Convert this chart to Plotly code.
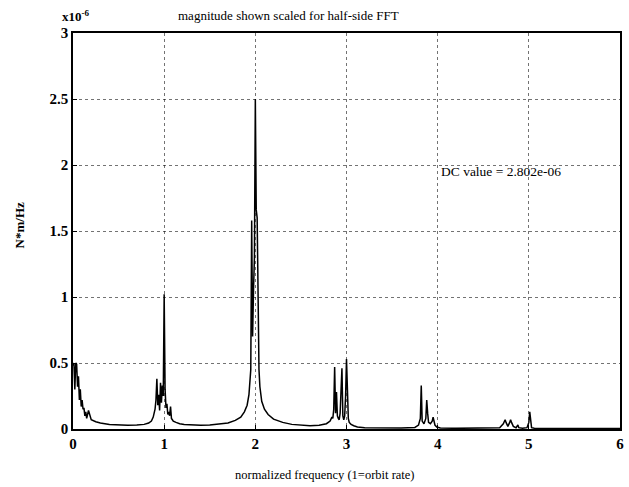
import plotly.graph_objects as go

# normalized frequency (1 = orbit rate)
freq = [
    0.000, 0.010, 0.020, 0.030, 0.040, 0.050, 0.060, 0.070, 0.080, 0.090,
    0.100, 0.110, 0.120, 0.130, 0.140, 0.150, 0.170, 0.200, 0.250, 0.300,
    0.400, 0.500, 0.600, 0.700, 0.780, 0.830, 0.860, 0.880, 0.900, 0.910,
    0.920, 0.930, 0.940, 0.950, 0.960, 0.970, 0.980, 0.990, 1.000, 1.010,
    1.020, 1.030, 1.040, 1.050, 1.060, 1.070, 1.080, 1.090, 1.100, 1.130,
    1.170, 1.220, 1.300, 1.400, 1.500, 1.600, 1.700, 1.780, 1.840, 1.880,
    1.910, 1.930, 1.950, 1.960, 1.970, 1.980, 1.990, 2.000, 2.010, 2.020,
    2.030, 2.040, 2.050, 2.070, 2.100, 2.140, 2.200, 2.300, 2.400, 2.500,
    2.600, 2.700, 2.780, 2.820, 2.840, 2.850, 2.860, 2.870, 2.880, 2.890,
    2.900, 2.910, 2.920, 2.930, 2.940, 2.950, 2.960, 2.970, 2.980, 2.990,
    3.000, 3.010, 3.020, 3.030, 3.050, 3.080, 3.120, 3.200, 3.400, 3.600,
    3.750, 3.790, 3.810, 3.820, 3.830, 3.850, 3.870, 3.880, 3.890, 3.900,
    3.920, 3.940, 3.950, 3.960, 3.970, 3.990, 4.030, 4.200, 4.500, 4.680,
    4.720, 4.740, 4.750, 4.770, 4.790, 4.800, 4.810, 4.830, 4.860, 4.880,
    4.890, 4.900, 4.930, 4.980, 5.000, 5.010, 5.020, 5.030, 5.060, 5.300,
    5.700, 6.000,
]

# magnitude in units of 1e-6 N*m/Hz
mag_e6 = [
    0.48, 0.50, 0.30, 0.50, 0.49, 0.32, 0.40, 0.22, 0.30, 0.17,
    0.22, 0.15, 0.16, 0.10, 0.13, 0.08, 0.14, 0.07, 0.055, 0.045,
    0.035, 0.03, 0.028, 0.03, 0.035, 0.045, 0.06, 0.09, 0.15, 0.22,
    0.38, 0.18, 0.26, 0.14, 0.35, 0.20, 0.33, 0.25, 1.02, 0.30,
    0.16, 0.19, 0.11, 0.13, 0.10, 0.17, 0.08, 0.07, 0.06, 0.05,
    0.04, 0.035, 0.03, 0.028, 0.03, 0.035, 0.045, 0.065, 0.09, 0.13,
    0.18, 0.26, 0.45, 1.58, 0.70, 1.05, 1.30, 2.50, 1.66, 1.60,
    0.80, 0.45, 0.32, 0.21, 0.15, 0.11, 0.075, 0.05, 0.035, 0.028,
    0.025, 0.028, 0.04, 0.06, 0.09, 0.08, 0.15, 0.47, 0.12, 0.28,
    0.10, 0.08, 0.07, 0.12, 0.30, 0.46, 0.10, 0.07, 0.10, 0.25,
    0.53, 0.20, 0.08, 0.05, 0.035, 0.025, 0.015, 0.01, 0.008, 0.008,
    0.012, 0.03, 0.08, 0.33, 0.06, 0.04, 0.08, 0.22, 0.12, 0.05,
    0.04, 0.06, 0.09, 0.05, 0.03, 0.015, 0.008, 0.005, 0.005, 0.01,
    0.04, 0.07, 0.05, 0.02, 0.05, 0.07, 0.05, 0.02, 0.01, 0.03,
    0.01, 0.008, 0.006, 0.01, 0.05, 0.13, 0.04, 0.01, 0.006, 0.004,
    0.003, 0.003,
]

x_ticks = [0, 1, 2, 3, 4, 5, 6]
y_ticks = [0, 0.5, 1, 1.5, 2, 2.5, 3]
y_tick_labels = ["0", "0.5", "1", "1.5", "2", "2.5", "3"]

title_text = "magnitude shown scaled for half-side FFT"
x_label = "normalized frequency (1=orbit rate)"
y_label = "N*m/Hz"
dc_text = "DC value = 2.802e-06"

FONT = "Liberation Serif"

fig = go.Figure()
fig.add_trace(go.Scatter(
    x=freq, y=mag_e6, mode="lines",
    line=dict(color="black", width=1.5),
    showlegend=False, hoverinfo="skip",
))

L, R, T, B = 73, 5, 33, 58
W, H = 629, 487
pw, ph = W - L - R, H - T - B


def px(xp):
    return (xp - L) / pw


def py(yp):
    return (H - B - yp) / ph


axis_common = dict(
    showline=True, linecolor="black", linewidth=1.5, mirror=True,
    showgrid=True, gridcolor="rgba(0,0,0,0.55)", gridwidth=1, griddash="dot",
    zeroline=False, ticks="inside", ticklen=4, tickcolor="black",
    tickfont=dict(family=FONT, size=15, color="black", weight="bold"),
)

fig.update_xaxes(range=[0, 6], tickvals=x_ticks, **axis_common)
fig.update_yaxes(range=[0, 3], tickvals=y_ticks, ticktext=y_tick_labels,
                 **axis_common)

annotations = [
    dict(text=title_text, xref="paper", yref="paper", x=px(290), y=py(15),
         xanchor="center", yanchor="middle", showarrow=False,
         font=dict(family=FONT, size=13, color="black")),
    dict(text="x10<sup>-6</sup>", xref="paper", yref="paper", x=px(60), y=py(16),
         xanchor="left", yanchor="middle", showarrow=False,
         font=dict(family=FONT, size=13, color="black", weight="bold")),
    dict(text=x_label, xref="paper", yref="paper", x=px(327), y=py(475),
         xanchor="center", yanchor="middle", showarrow=False,
         font=dict(family=FONT, size=12.5, color="black")),
    dict(text=y_label, xref="paper", yref="paper", x=px(19), y=py(225),
         xanchor="center", yanchor="middle", showarrow=False, textangle=-90,
         font=dict(family=FONT, size=13, color="black", weight="bold")),
    dict(text=dc_text, xref="x", yref="y", x=4.02, y=1.95,
         xanchor="left", yanchor="middle", showarrow=False,
         font=dict(family=FONT, size=13.5, color="black")),
]

fig.update_layout(
    width=W, height=H,
    margin=dict(l=L, r=R, t=T, b=B),
    paper_bgcolor="white", plot_bgcolor="white",
    annotations=annotations,
)

fig.write_html("out.html")
